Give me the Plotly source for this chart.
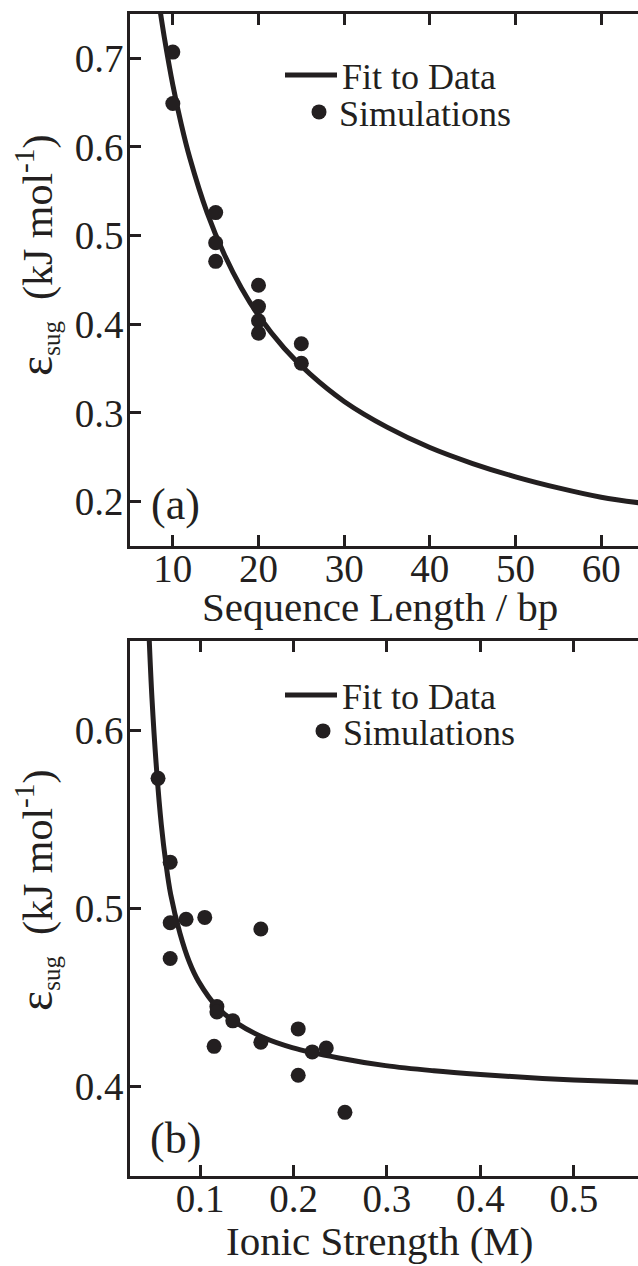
import plotly.graph_objects as go

INK = "#231f20"
FONT = "Liberation Serif"

# (a) sugar-interaction strength versus duplex length
length_bp = [10, 10, 15, 15, 15, 20, 20, 20, 20, 25, 25]
eps_length = [0.707, 0.649, 0.526, 0.492, 0.471, 0.444, 0.420, 0.404, 0.390, 0.378, 0.356]

fit_length_bp = [8.5, 9, 10, 11, 12, 14, 16, 18, 20, 23, 26, 30, 35, 40, 45, 50, 55, 60, 65]
fit_eps_length = [0.755, 0.724, 0.670, 0.625, 0.587, 0.526, 0.479, 0.441, 0.410, 0.373,
                  0.344, 0.313, 0.284, 0.261, 0.243, 0.228, 0.2155, 0.205, 0.198]

# (b) sugar-interaction strength versus ionic strength
ionic_M = [0.055, 0.068, 0.068, 0.085, 0.105, 0.068, 0.165, 0.118, 0.118, 0.135,
           0.115, 0.165, 0.205, 0.220, 0.235, 0.205, 0.255]
eps_ionic = [0.573, 0.526, 0.492, 0.494, 0.495, 0.472, 0.4885, 0.445, 0.442, 0.437,
             0.4227, 0.425, 0.4325, 0.4196, 0.4218, 0.4065, 0.3857]

fit_ionic_M = [0.045, 0.0485, 0.0535, 0.0585, 0.0635, 0.0685, 0.0785, 0.0885, 0.0985, 0.1185,
               0.1385, 0.1685, 0.1985, 0.2485, 0.2985, 0.35, 0.40, 0.45, 0.50, 0.57]
fit_eps_ionic = [0.658, 0.618, 0.5775, 0.547, 0.525, 0.508, 0.486, 0.470, 0.459, 0.4445,
                 0.436, 0.4275, 0.422, 0.4162, 0.4119, 0.409, 0.4069, 0.4052, 0.4039, 0.4025]

length_ticks = [10, 20, 30, 40, 50, 60]
ionic_ticks = [0.1, 0.2, 0.3, 0.4, 0.5]
eps_ticks_a = [0.2, 0.3, 0.4, 0.5, 0.6, 0.7]
eps_ticks_b = [0.4, 0.5, 0.6]

fig = go.Figure()

fig.add_trace(go.Scatter(x=fit_length_bp, y=fit_eps_length, mode="lines",
                         line=dict(color=INK, width=5, shape="spline"),
                         name="Fit to Data", xaxis="x", yaxis="y", legend="legend"))
fig.add_trace(go.Scatter(x=length_bp, y=eps_length, mode="markers",
                         marker=dict(color=INK, size=15),
                         name="Simulations", xaxis="x", yaxis="y", legend="legend2"))
fig.add_trace(go.Scatter(x=fit_ionic_M, y=fit_eps_ionic, mode="lines",
                         line=dict(color=INK, width=5, shape="spline"),
                         name="Fit to Data", xaxis="x2", yaxis="y2", legend="legend3"))
fig.add_trace(go.Scatter(x=ionic_M, y=eps_ionic, mode="markers",
                         marker=dict(color=INK, size=15),
                         name="Simulations", xaxis="x2", yaxis="y2", legend="legend4"))

tickfont = dict(family=FONT, size=39, color=INK)
axis_style = dict(showline=True, linecolor=INK, linewidth=2.5, ticks="inside",
                  ticklen=11, tickwidth=2.5, tickcolor=INK, showgrid=False,
                  zeroline=False, tickfont=tickfont)
x_style = dict(axis_style, ticklabelstandoff=-14)
y_style = dict(axis_style, ticklabelstandoff=-4)
right_ticks = dict(showline=False, ticks="inside", ticklen=6, tickwidth=2.5,
                   tickcolor=INK, showgrid=False, zeroline=False,
                   showticklabels=False, side="right")

top_dom = [0.5422, 1.0]
bot_dom = [0.0, 0.4604]

fig.update_layout(
    width=638, height=1266,
    margin=dict(l=130, r=0, t=14, b=90),
    paper_bgcolor="white", plot_bgcolor="white",
    font=dict(family=FONT, color=INK),
    showlegend=True,
    xaxis=dict(x_style, domain=[0, 1], anchor="y", range=[5, 64.3],
               tickvals=length_ticks, mirror="ticks"),
    yaxis=dict(y_style, domain=top_dom, anchor="x", range=[0.15, 0.75],
               tickvals=eps_ticks_a),
    yaxis3=dict(right_ticks, domain=top_dom, anchor="x", overlaying="y",
                range=[0.15, 0.75], tickvals=eps_ticks_a),
    xaxis2=dict(x_style, domain=[0, 1], anchor="y2", range=[0.025, 0.5686],
                tickvals=ionic_ticks, mirror="ticks"),
    yaxis2=dict(y_style, domain=bot_dom, anchor="x2", range=[0.35, 0.65],
                tickvals=eps_ticks_b),
    yaxis4=dict(right_ticks, domain=bot_dom, anchor="x2", overlaying="y2",
                range=[0.35, 0.65], tickvals=eps_ticks_b),
)

legend_style = dict(xanchor="left", yanchor="middle", bgcolor="rgba(0,0,0,0)",
                    borderwidth=0, font=dict(family=FONT, size=36, color=INK))
fig.update_layout(
    legend=dict(legend_style, x=(280 - 130) / 508, y=(1176 - 75) / 1162, itemwidth=52),
    legend2=dict(legend_style, x=(299 - 130) / 508, y=(1176 - 112) / 1162, itemwidth=30),
    legend3=dict(legend_style, x=(280 - 130) / 508, y=(1176 - 695) / 1162, itemwidth=52),
    legend4=dict(legend_style, x=(303 - 130) / 508, y=(1176 - 731) / 1162, itemwidth=30),
)

ytitle = ('<span style="font-size:48px">ε</span><sub><span style="font-size:25px">sug</span></sub>'
          '\u00a0\u00a0(kJ mol<sup>-1</sup>)')
title_font = dict(family=FONT, size=41, color=INK)
ytitle_font = dict(family=FONT, size=42, color=INK)
annotations = [
    dict(text="Sequence Length / bp", x=(380 - 130) / 508, y=(1176 - 607) / 1162,
         xref="paper", yref="paper", xanchor="center", yanchor="middle",
         showarrow=False, font=title_font),
    dict(text="Ionic Strength (M)", x=(379 - 130) / 508, y=(1176 - 1266) / 1162,
         xref="paper", yref="paper", xanchor="center", yanchor="bottom",
         showarrow=False, font=title_font),
    dict(text=ytitle, x=(36 - 130) / 508, y=(1176 - 255) / 1162, textangle=-90,
         xref="paper", yref="paper", xanchor="center", yanchor="middle",
         showarrow=False, font=ytitle_font),
    dict(text=ytitle, x=(36 - 130) / 508, y=(1176 - 890) / 1162, textangle=-90,
         xref="paper", yref="paper", xanchor="center", yanchor="middle",
         showarrow=False, font=ytitle_font),
    dict(text="(a)", x=(175 - 130) / 508, y=(1176 - 504) / 1162,
         xref="paper", yref="paper", xanchor="center", yanchor="middle",
         showarrow=False, font=dict(family=FONT, size=44, color=INK)),
    dict(text="(b)", x=(175 - 130) / 508, y=(1176 - 1138) / 1162,
         xref="paper", yref="paper", xanchor="center", yanchor="middle",
         showarrow=False, font=dict(family=FONT, size=44, color=INK)),
]
fig.update_layout(annotations=annotations)

fig.write_html("out.html")
